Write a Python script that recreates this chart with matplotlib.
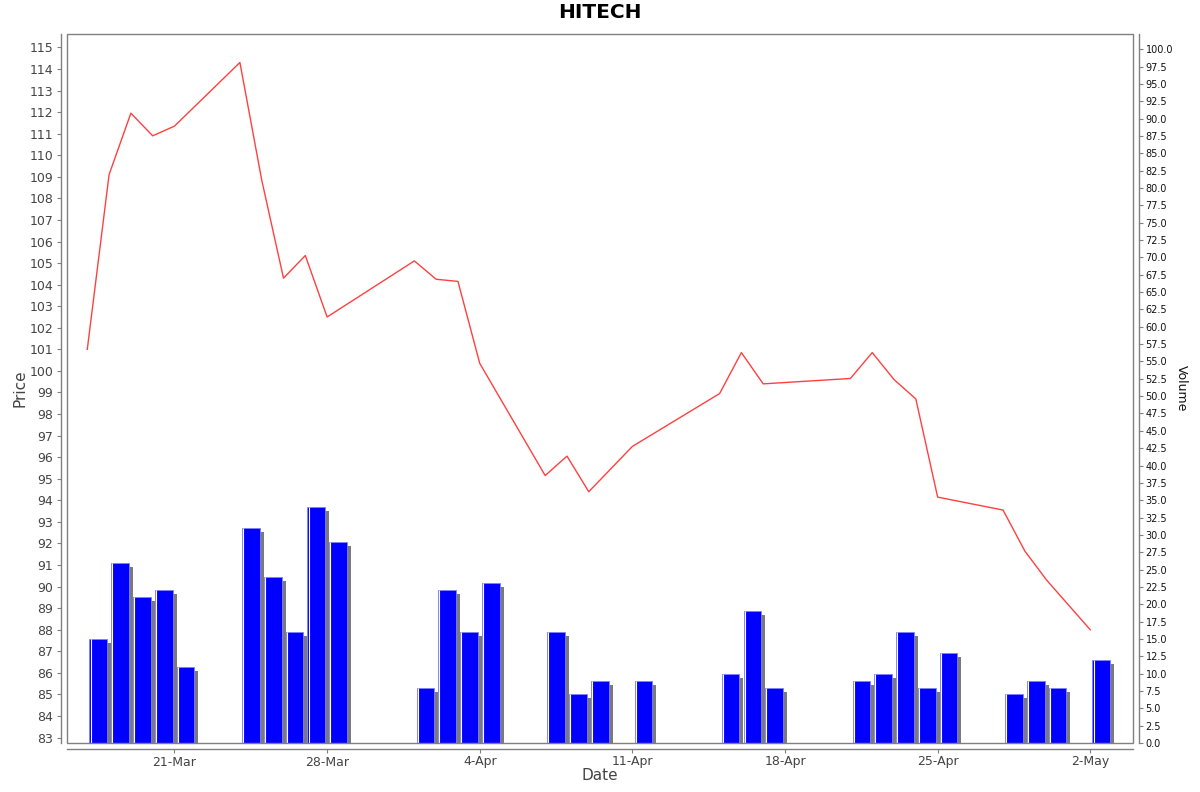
import numpy as np
import matplotlib
matplotlib.use("Agg")
import matplotlib.pyplot as plt
import matplotlib.dates as mdates
import matplotlib.transforms as mtransforms
from matplotlib.patches import Rectangle

# trading days (2025)
dates = ["2025-03-17", "2025-03-18", "2025-03-19", "2025-03-20", "2025-03-21",
         "2025-03-24", "2025-03-25", "2025-03-26", "2025-03-27", "2025-03-28",
         "2025-04-01", "2025-04-02", "2025-04-03", "2025-04-04",
         "2025-04-07", "2025-04-08", "2025-04-09", "2025-04-11",
         "2025-04-15", "2025-04-16", "2025-04-17",
         "2025-04-21", "2025-04-22", "2025-04-23", "2025-04-24", "2025-04-25",
         "2025-04-28", "2025-04-29", "2025-04-30", "2025-05-02"]
price = [101.0, 109.1, 111.95, 110.9, 111.35,
         114.3, 108.85, 104.3, 105.35, 102.5,
         105.1, 104.25, 104.15, 100.35,
         95.15, 96.05, 94.4, 96.5,
         98.95, 100.85, 99.4,
         99.65, 100.85, 99.6, 98.7, 94.15,
         93.55, 91.65, 90.3, 88.0]
volume = [15, 26, 21, 22, 11,
          31, 24, 16, 34, 29,
          8, 22, 16, 23,
          16, 7, 9, 9,
          10, 19, 8,
          9, 10, 16, 8, 13,
          7, 9, 8, 12]

x = mdates.date2num(np.array(dates, dtype="datetime64[D]"))

fig = plt.figure(figsize=(12, 7.92), dpi=100)
ax = fig.add_axes([67/1200, 1-743/792, (1133-67)/1200, (743-34)/792])
ax2 = ax.twinx()
ax.set_zorder(ax2.get_zorder() + 1)
ax.patch.set_visible(False)

grey = "#808080"
txt = "#444444"

# volume bars with shadow
shadow = mtransforms.ScaledTranslation(4/100, -4/100, fig.dpi_scale_trans)
ax2.bar(x + 0.1, volume, width=0.81, align="edge", color="#7a7a7a",
        transform=ax2.transData + shadow, zorder=1)
ax2.bar(x + 0.1, volume, width=0.81, align="edge", color="#0000ff",
        edgecolor="#8080ff", linewidth=0.6, zorder=2)
ax2.vlines(x + 0.15, 0, volume, color="white", linewidth=0.8, zorder=3)

# price line
ax.plot(x, price, color="#ff4040", linewidth=1.0)

ax.set_xlim(x[0] - 0.93, x[-1] + 1.96)
ax.set_ylim(82.75, 115.62)
ax2.set_ylim(0, 102.2)

ax.set_yticks(np.arange(83, 116, 1))
ax2.set_yticks(np.arange(0, 100.1, 2.5))
ax2.yaxis.set_major_formatter(matplotlib.ticker.FormatStrFormatter("%.1f"))

ax.xaxis.set_major_locator(mdates.WeekdayLocator(byweekday=mdates.FR))
ax.xaxis.set_major_formatter(matplotlib.ticker.FuncFormatter(
    lambda v, p: f"{mdates.num2date(v).day}-{mdates.num2date(v):%b}"))

for a in (ax, ax2):
    for s in a.spines.values():
        s.set_visible(False)
ax.spines["left"].set_visible(True)
ax.spines["left"].set_position(("outward", 4))
ax.spines["bottom"].set_visible(True)
ax.spines["bottom"].set_position(("outward", 4))
ax2.spines["right"].set_visible(True)
ax2.spines["right"].set_position(("outward", 4))
for s in (ax.spines["left"], ax.spines["bottom"], ax2.spines["right"]):
    s.set_color(grey)
    s.set_linewidth(1.0)

ax.add_patch(Rectangle((0, 0), 1, 1, transform=ax.transAxes, fill=False,
                       edgecolor=grey, linewidth=1.0, clip_on=False, zorder=10))

ax.tick_params(axis="y", length=3, width=0.8, color=grey, labelsize=9,
               labelcolor=txt, pad=3)
ax.tick_params(axis="x", length=3, width=0.8, color=grey, labelsize=9,
               labelcolor=txt, pad=2)
ax2.tick_params(axis="y", length=3, width=0.8, color=grey, labelsize=7,
                labelcolor="#111111", pad=2)

ax.set_ylabel("Price", fontsize=11, color=txt, labelpad=1)
ax.set_xlabel("Date", fontsize=11, color=txt, labelpad=0)
ax2.set_ylabel("Volume", fontsize=9, color="#111111", rotation=-90, labelpad=11)
fig.text(0.5, 1 - 13/792, "HITECH", fontsize=14.5, fontweight="bold",
         ha="center", va="center")

fig.savefig("out.png", dpi=100)
